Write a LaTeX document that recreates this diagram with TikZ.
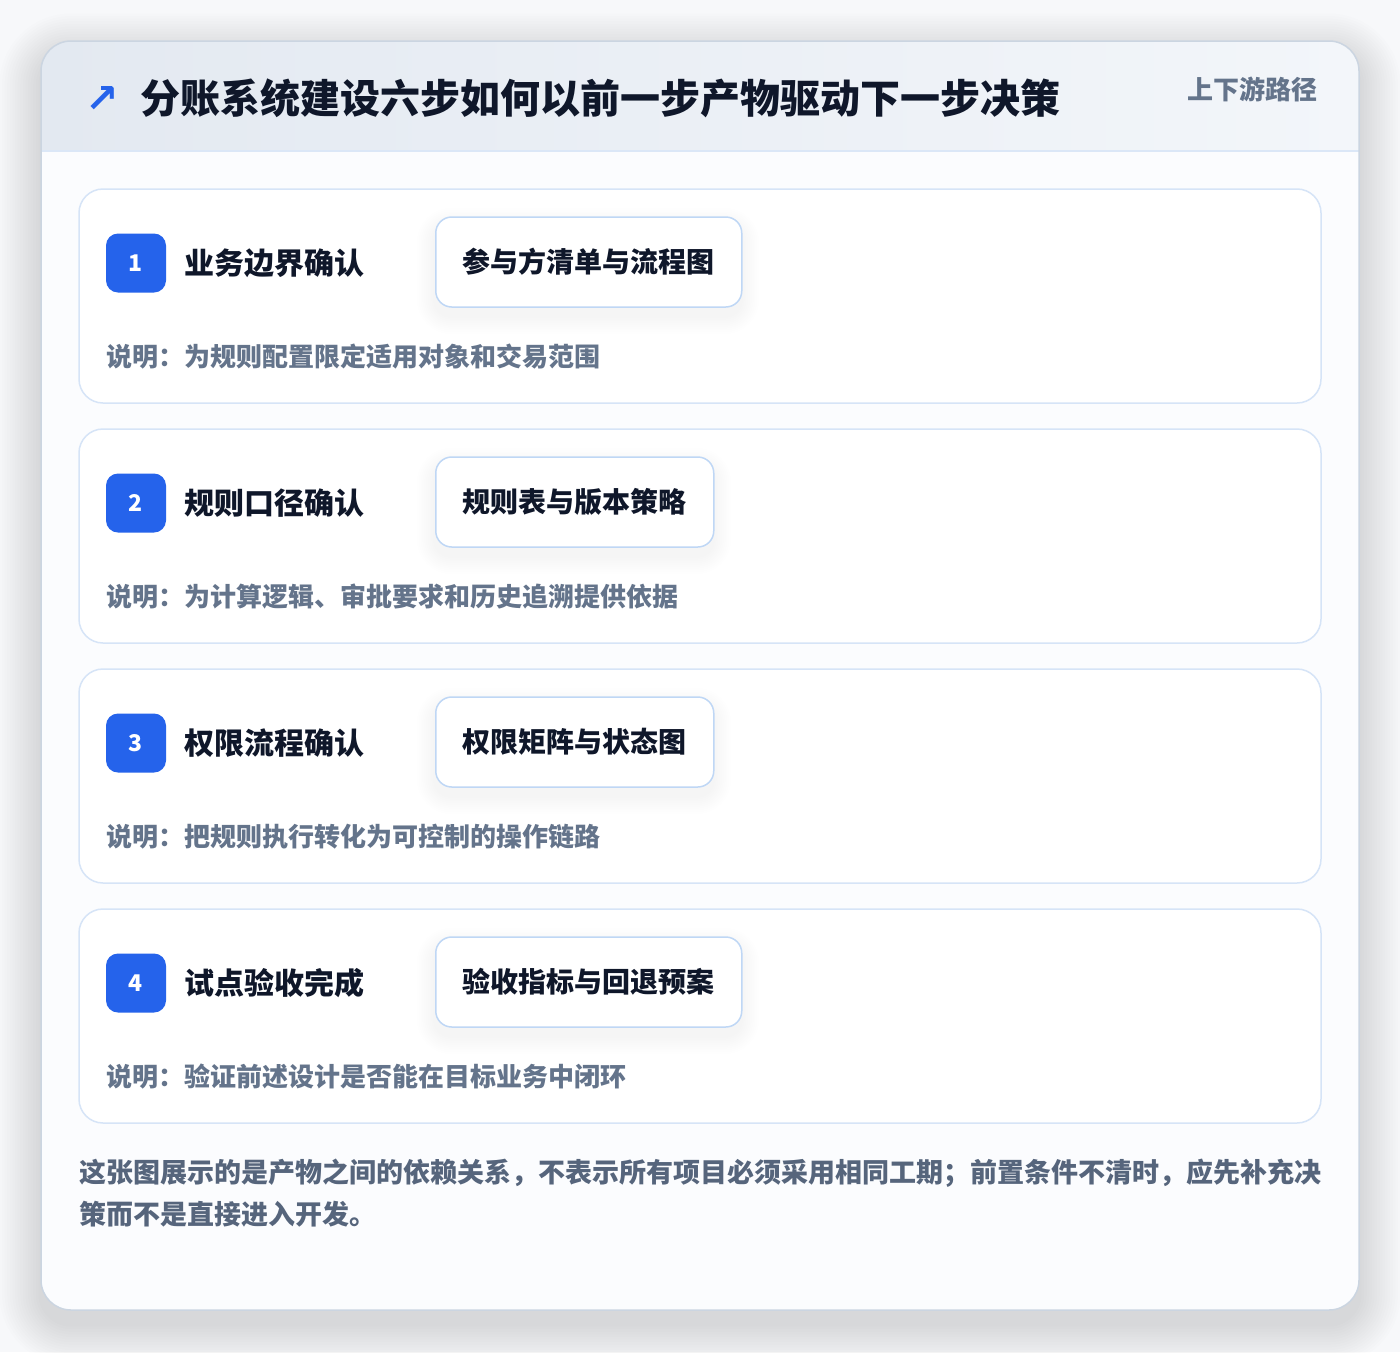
\documentclass[tikz,border=0pt]{standalone}
\usepackage{fontspec}
\setmainfont{Noto Sans CJK SC}
\newfontfamily\symfont{DejaVu Sans}
\definecolor{pagebg}{HTML}{F7F8FA}
\definecolor{cardfill}{HTML}{FBFCFE}
\definecolor{cardline}{HTML}{CBD5E1}
\definecolor{headL}{HTML}{E3E9F1}
\definecolor{headR}{HTML}{F3F6FA}
\definecolor{headline}{HTML}{DBE7F7}
\definecolor{stepline}{HTML}{D6E4F7}
\definecolor{artline}{HTML}{BFD7F5}
\definecolor{accent}{HTML}{2563EB}
\definecolor{ink}{HTML}{0F172A}
\definecolor{muted}{HTML}{64748B}
\definecolor{footink}{HTML}{56657C}
\begin{document}
\begin{tikzpicture}[x=1pt,y=-1pt,
  stepcard/.style={draw=stepline,line width=1.5pt,fill=white,rounded corners=24pt},
  badge/.style={fill=accent,rounded corners=12pt,minimum width=60pt,minimum height=59pt,inner sep=0pt,text=white,font=\fontsize{23}{26}\selectfont\bfseries},
  steptitle/.style={anchor=west,inner sep=0pt,text=ink,font=\fontsize{30}{36}\selectfont\bfseries},
  artbox/.style={anchor=west,draw=artline,line width=1.5pt,fill=white,rounded corners=16pt,minimum height=90pt,inner xsep=27pt,inner ysep=0pt,text=ink,font=\fontsize{28}{34}\selectfont\bfseries},
  desctext/.style={anchor=west,inner sep=0pt,text=muted,font=\fontsize{26}{32}\selectfont\bfseries},
]
\useasboundingbox (0,0) rectangle (1400,1352);
\fill[pagebg] (0,0) rectangle (1400,1352);
% outer card shadow
\foreach \k in {1,...,16}{
  \fill[black,opacity=0.006,rounded corners={30pt+2.6pt*\k}]
    (41-2.6*\k,41-2.6*\k+14) rectangle (1359+2.6*\k,1310+2.6*\k+14);
}
% outer card
\fill[cardfill,rounded corners=30pt] (41,41) rectangle (1359,1310);
\begin{scope}
  \clip[rounded corners=30pt] (41,41) rectangle (1359,1310);
  \shade[left color=headL,right color=headR] (41,41) rectangle (1359,151);
\end{scope}
\draw[headline,line width=1.5pt] (41,151) -- (1359,151);
\draw[cardline,line width=1.5pt,rounded corners=30pt] (41,41) rectangle (1359,1310);
% header
\node[anchor=center,inner sep=0pt,text=accent,font=\symfont\bfseries\fontsize{40}{44}\selectfont] (icon) at (102,99) {↗};
\node[anchor=west,inner sep=0pt,text=ink,font=\fontsize{40}{48}\selectfont\bfseries] (title) at (140,98) {分账系统建设六步如何以前一步产物驱动下一步决策};
\node[anchor=east,inner sep=0pt,text=muted,font=\fontsize{26}{32}\selectfont\bfseries] (tag) at (1318,89) {上下游路径};
% steps
\foreach \i/\st/\art/\desc/\w in {
  1/业务边界确认/参与方清单与流程图/为规则配置限定适用对象和交易范围/306,
  2/规则口径确认/规则表与版本策略/为计算逻辑、审批要求和历史追溯提供依据/278,
  3/权限流程确认/权限矩阵与状态图/把规则执行转化为可控制的操作链路/278,
  4/试点验收完成/验收指标与回退预案/验证前述设计是否能在目标业务中闭环/306}{
  \pgfmathsetmacro{\top}{189+240*(\i-1)}
  \draw[stepcard] (79,\top) rectangle (1321,\top+214);
  \foreach \k in {1,...,10}{
    \fill[black,opacity=0.004,rounded corners={16pt+1.8pt*\k}]
      (435-1.8*\k,\top+28-1.8*\k+9) rectangle (435+\w+1.8*\k,\top+118+1.8*\k+9);
  }
  \node[badge] (badge\i) at (136,\top+74) {\i};
  \node[steptitle] (title\i) at (184,\top+74) {\st};
  \node[artbox] (art\i) at (435,\top+73) {\art};
  \node[desctext] (desc\i) at (106,\top+168) {说明：\desc};
}
% footer
\node[anchor=north west,inner sep=0pt,align=left,text=footink,font=\fontsize{27}{42}\selectfont\bfseries] (foot) at (79,1159)
  {这张图展示的是产物之间的依赖关系，不表示所有项目必须采用相同工期；前置条件不清时，应先补充决\\策而不是直接进入开发。};
\end{tikzpicture}
\end{document}
